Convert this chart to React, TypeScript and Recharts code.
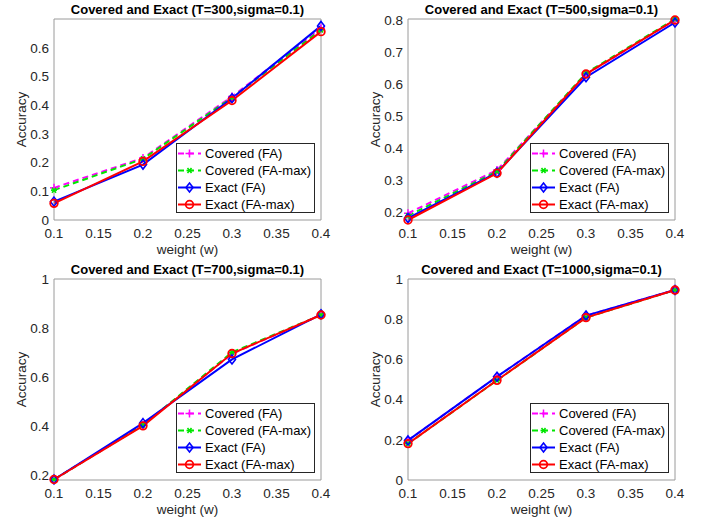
import React from 'react';
import { LineChart, Line, XAxis, YAxis, Legend } from 'recharts';

const FONT = '"Liberation Sans", Arial, sans-serif';
const AXIS_GRAY = '#9a9a9a';
const TEXT_GRAY = '#262626';

const WEIGHTS = [0.1, 0.2, 0.3, 0.4];
const X_TICKS = [0.1, 0.15, 0.2, 0.25, 0.3, 0.35, 0.4];

// T = 300
const T300_COVERED_FA = [0.112, 0.216, 0.43, 0.668];
const T300_COVERED_FAMAX = [0.104, 0.213, 0.426, 0.662];
const T300_EXACT_FA = [0.064, 0.193, 0.424, 0.676];
const T300_EXACT_FAMAX = [0.058, 0.204, 0.416, 0.656];
const T300_Y_TICKS = [0, 0.1, 0.2, 0.3, 0.4, 0.5, 0.6];

// T = 500
const T500_COVERED_FA = [0.196, 0.331, 0.63, 0.8];
const T500_COVERED_FAMAX = [0.188, 0.327, 0.634, 0.803];
const T500_EXACT_FA = [0.181, 0.323, 0.621, 0.792];
const T500_EXACT_FAMAX = [0.175, 0.321, 0.631, 0.8];
const T500_Y_TICKS = [0.2, 0.3, 0.4, 0.5, 0.6, 0.7, 0.8];

// T = 700
const T700_COVERED_FA = [0.182, 0.404, 0.695, 0.853];
const T700_COVERED_FAMAX = [0.182, 0.404, 0.701, 0.853];
const T700_EXACT_FA = [0.182, 0.412, 0.672, 0.856];
const T700_EXACT_FAMAX = [0.182, 0.401, 0.696, 0.853];
const T700_Y_TICKS = [0.2, 0.4, 0.6, 0.8, 1];

// T = 1000
const T1000_COVERED_FA = [0.197, 0.514, 0.818, 0.945];
const T1000_COVERED_FAMAX = [0.181, 0.496, 0.808, 0.945];
const T1000_EXACT_FA = [0.197, 0.514, 0.818, 0.945];
const T1000_EXACT_FAMAX = [0.181, 0.496, 0.808, 0.945];
const T1000_Y_TICKS = [0, 0.2, 0.4, 0.6, 0.8, 1];

const SERIES = [
  { key: 'cfa', name: 'Covered (FA)', color: '#ff00ff', dash: '6 4', marker: 'plus' },
  { key: 'cfm', name: 'Covered (FA-max)', color: '#00e600', dash: '6 4', marker: 'star' },
  { key: 'efa', name: 'Exact (FA)', color: '#0000ff', dash: undefined, marker: 'diamond' },
  { key: 'efm', name: 'Exact (FA-max)', color: '#ff0000', dash: undefined, marker: 'circle' },
];

const PANELS = [
  { title: 'Covered and Exact (T=300,sigma=0.1)', left: 0, top: 0, domain: [0, 0.7], ticks: T300_Y_TICKS,
    values: [T300_COVERED_FA, T300_COVERED_FAMAX, T300_EXACT_FA, T300_EXACT_FAMAX] },
  { title: 'Covered and Exact (T=500,sigma=0.1)', left: 354, top: 0, domain: [0.175, 0.8], ticks: T500_Y_TICKS,
    values: [T500_COVERED_FA, T500_COVERED_FAMAX, T500_EXACT_FA, T500_EXACT_FAMAX] },
  { title: 'Covered and Exact (T=700,sigma=0.1)', left: 0, top: 260, domain: [0.18, 1], ticks: T700_Y_TICKS,
    values: [T700_COVERED_FA, T700_COVERED_FAMAX, T700_EXACT_FA, T700_EXACT_FAMAX] },
  { title: 'Covered and Exact (T=1000,sigma=0.1)', left: 354, top: 260, domain: [0, 1], ticks: T1000_Y_TICKS,
    values: [T1000_COVERED_FA, T1000_COVERED_FAMAX, T1000_EXACT_FA, T1000_EXACT_FAMAX] },
];

function Marker({ type, cx, cy, color }: { type: string; cx: number; cy: number; color: string }) {
  if (type === 'plus') {
    return (
      <g stroke={color} strokeWidth={1.5}>
        <line x1={cx - 4} x2={cx + 4} y1={cy} y2={cy} />
        <line x1={cx} x2={cx} y1={cy - 4} y2={cy + 4} />
      </g>
    );
  }
  if (type === 'star') {
    return (
      <g stroke={color} strokeWidth={1.6}>
        <line x1={cx - 3} x2={cx + 3} y1={cy} y2={cy} />
        <line x1={cx - 2} x2={cx + 2} y1={cy - 2.5} y2={cy + 2.5} />
        <line x1={cx + 2} x2={cx - 2} y1={cy - 2.5} y2={cy + 2.5} />
      </g>
    );
  }
  if (type === 'diamond') {
    return (
      <polygon
        points={`${cx},${cy - 4.5} ${cx + 3.5},${cy} ${cx},${cy + 4.5} ${cx - 3.5},${cy}`}
        fill="none"
        stroke={color}
        strokeWidth={1.6}
      />
    );
  }
  return <circle cx={cx} cy={cy} r={3.8} fill="none" stroke={color} strokeWidth={1.8} />;
}

function LegendBox() {
  return (
    <div
      style={{
        width: 139,
        height: 70,
        border: `1px solid ${TEXT_GRAY}`,
        background: '#fff',
        fontFamily: FONT,
        fontSize: 13,
        color: '#000',
        paddingTop: 1,
        boxSizing: 'border-box',
      }}
    >
      {SERIES.map((s) => (
        <div key={s.key} style={{ display: 'flex', alignItems: 'center', height: 17 }}>
          <svg width={28} height={17} style={{ flex: 'none' }}>
            <line x1={1} x2={24} y1={8.5} y2={8.5} stroke={s.color} strokeWidth={2} strokeDasharray={s.dash} />
            <Marker type={s.marker} cx={12.5} cy={8.5} color={s.color} />
          </svg>
          <span style={{ whiteSpace: 'nowrap' }}>{s.name}</span>
        </div>
      ))}
    </div>
  );
}

function Panel({ panel }: { panel: (typeof PANELS)[number] }) {
  const data = WEIGHTS.map((w, i) => ({
    w,
    cfa: panel.values[0][i],
    cfm: panel.values[1][i],
    efa: panel.values[2][i],
    efm: panel.values[3][i],
  }));
  const tickStyle = { fontSize: 13.5, fill: TEXT_GRAY, fontFamily: FONT };

  return (
    <div style={{ position: 'absolute', left: panel.left, top: panel.top, width: 354, height: 260 }}>
      <div
        style={{
          position: 'absolute',
          left: 54,
          width: 267,
          top: 2,
          textAlign: 'center',
          fontFamily: FONT,
          fontWeight: 'bold',
          fontSize: 13,
          lineHeight: '15px',
          color: '#000',
          whiteSpace: 'nowrap',
          zIndex: 2,
        }}
      >
        {panel.title}
      </div>
      <LineChart width={354} height={260} data={data} margin={{ top: 19, right: 33, left: 0, bottom: 0 }}>
        <XAxis
          dataKey="w"
          type="number"
          domain={[0.1, 0.4]}
          ticks={X_TICKS}
          tickFormatter={(v) => String(v)}
          tick={tickStyle}
          tickLine={false}
          tickSize={0}
          tickMargin={8}
          height={40}
          axisLine={{ stroke: AXIS_GRAY }}
          label={{ value: 'weight (w)', position: 'insideBottom', offset: 6, fontSize: 13.5, fill: TEXT_GRAY, fontFamily: FONT }}
        />
        <XAxis xAxisId="b" dataKey="w" type="number" domain={[0.1, 0.4]} ticks={X_TICKS} mirror tick={false}
          tickSize={3} tickLine={{ stroke: AXIS_GRAY }} axisLine={false} />
        <XAxis xAxisId="t" orientation="top" dataKey="w" type="number" domain={[0.1, 0.4]} ticks={X_TICKS} mirror
          tick={false} tickSize={3} tickLine={{ stroke: AXIS_GRAY }} axisLine={{ stroke: AXIS_GRAY }} />
        <YAxis
          type="number"
          domain={panel.domain}
          ticks={panel.ticks}
          tickFormatter={(v) => String(v)}
          tick={tickStyle}
          tickLine={false}
          tickSize={0}
          tickMargin={5}
          width={54}
          axisLine={{ stroke: AXIS_GRAY }}
          label={{
            content: ({ viewBox }: any) => {
              const x = viewBox.x + 21;
              const y = viewBox.y + viewBox.height / 2;
              return (
                <text x={x} y={y} transform={`rotate(-90 ${x} ${y})`} textAnchor="middle" dominantBaseline="central"
                  fontSize={13.5} fill={TEXT_GRAY} fontFamily={FONT}>
                  Accuracy
                </text>
              );
            },
          }}
        />
        <YAxis yAxisId="l" type="number" domain={panel.domain} ticks={panel.ticks} mirror tick={false}
          tickSize={3} tickLine={{ stroke: AXIS_GRAY }} axisLine={false} />
        <YAxis yAxisId="r" orientation="right" type="number" domain={panel.domain} ticks={panel.ticks} mirror
          tick={false} tickSize={3} tickLine={{ stroke: AXIS_GRAY }} axisLine={{ stroke: AXIS_GRAY }} />
        {SERIES.map((s) => (
          <Line
            key={s.key}
            dataKey={s.key}
            name={s.name}
            stroke={s.color}
            strokeWidth={2}
            strokeDasharray={s.dash}
            isAnimationActive={false}
            dot={(p: any) => <Marker key={`${s.key}-${p.index}`} type={s.marker} cx={p.cx} cy={p.cy} color={s.color} />}
            activeDot={false}
          />
        ))}
        <Legend
          layout="vertical"
          align="center"
          verticalAlign="middle"
          content={() => <LegendBox />}
          wrapperStyle={{ left: 176, top: 143, width: 139, height: 70 }}
        />
      </LineChart>
    </div>
  );
}

export default function App() {
  return (
    <div style={{ position: 'absolute', left: 0, top: 0, width: 708, height: 520, background: '#fff' }}>
      {PANELS.map((p) => (
        <Panel key={p.title} panel={p} />
      ))}
    </div>
  );
}
